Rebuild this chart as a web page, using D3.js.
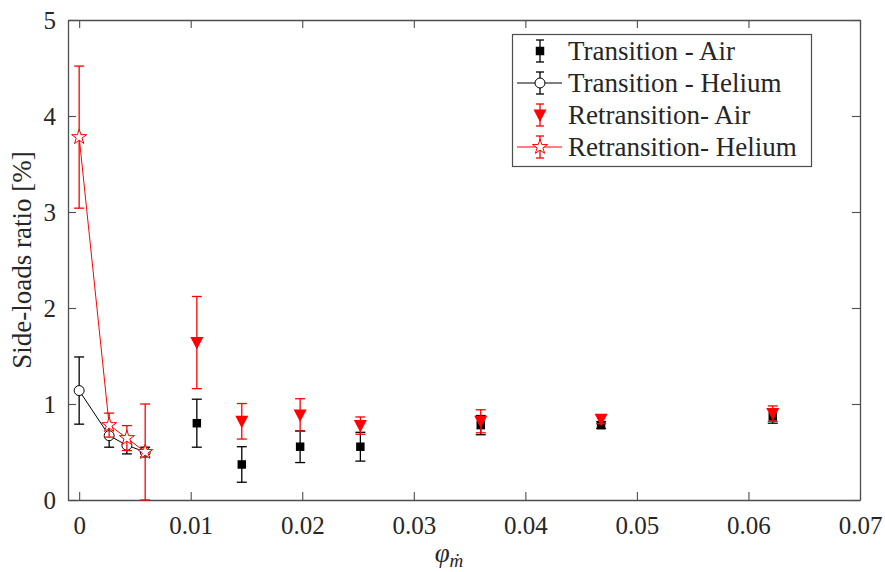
<!DOCTYPE html>
<html>
<head>
<meta charset="utf-8">
<script src="https://cdn.jsdelivr.net/npm/d3@7"></script>
<style>
  html, body { margin: 0; padding: 0; background: #fff; }
  svg { display: block; }
</style>
</head>
<body>
<svg id="chart" width="885" height="572"></svg>
<script>
// Side-load ratio versus mass-flow ratio, transition / retransition, air / helium
const heliumX      = [0, 0.00269, 0.00428, 0.00592];
const transHeY     = [1.14, 0.67, 0.57, 0.50];
const transHeErr   = [0.35, 0.12, 0.09, 0.05];
const retransHeY   = [3.78, 0.78, 0.645, 0.50];
const retransHeErr = [0.74, 0.125, 0.13, 0.50];

const airX         = [0.01055, 0.01458, 0.01981, 0.02521, 0.0360, 0.04679, 0.06218];
const transAirY    = [0.80, 0.37, 0.555, 0.555, 0.78, 0.78, 0.87];
const transAirErr  = [0.25, 0.185, 0.165, 0.15, 0.10, 0.035, 0.07];
const retransAirY  = [1.64, 0.82, 0.885, 0.775, 0.82, 0.84, 0.90];
const retransAirErr= [0.48, 0.185, 0.17, 0.09, 0.12, 0.045, 0.08];

const xTicks = [0, 0.01, 0.02, 0.03, 0.04, 0.05, 0.06, 0.07];
const yTicks = [0, 1, 2, 3, 4, 5];
const legendLabels = ["Transition - Air", "Transition - Helium", "Retransition- Air", "Retransition- Helium"];

const FONT = 'Liberation Serif, DejaVu Serif, Noto Serif, Tinos, Times New Roman, Times, serif';
const svg = d3.select("#chart");
const plotL = 68, plotR = 860, plotT = 20, plotB = 500;
const x = d3.scaleLinear().domain([-0.001, 0.07]).range([plotL, plotR]);
const y = d3.scaleLinear().domain([0, 5]).range([plotB, plotT]);
const axisColor = "#4d4d4d";
const RED = "#ff0000", BLACK = "#000000";

// plot frame and ticks on all four sides
function styleAxis(g) {
  g.attr("font-family", FONT).attr("font-size", 25);
  g.select(".domain").attr("stroke", axisColor).attr("stroke-width", 1.3);
  g.selectAll(".tick line").attr("stroke", axisColor).attr("stroke-width", 1.1);
  g.selectAll(".tick text").attr("fill", "#262626");
}
svg.append("g").attr("transform", `translate(0,${plotB})`)
  .call(d3.axisBottom(x).tickValues(xTicks).tickFormat(d => d === 0 ? "0" : d3.format(".2f")(d))
    .tickSize(-8).tickSizeOuter(0).tickPadding(16))
  .call(styleAxis);
svg.append("g").attr("transform", `translate(0,${plotT})`)
  .call(d3.axisTop(x).tickValues(xTicks).tickFormat("").tickSize(-8).tickSizeOuter(0))
  .call(styleAxis);
svg.append("g").attr("transform", `translate(${plotL},0)`)
  .call(d3.axisLeft(y).tickValues(yTicks).tickFormat(d3.format("d"))
    .tickSize(-8).tickSizeOuter(0).tickPadding(12))
  .call(styleAxis);
svg.append("g").attr("transform", `translate(${plotR},0)`)
  .call(d3.axisRight(y).tickValues(yTicks).tickFormat("").tickSize(-8).tickSizeOuter(0))
  .call(styleAxis);

// axis titles
svg.append("text")
  .attr("transform", `translate(31,${(plotT + plotB) / 2}) rotate(-90)`)
  .attr("text-anchor", "middle")
  .attr("font-family", FONT).attr("font-size", 27).attr("fill", "#262626")
  .text("Side-loads ratio [%]");

const xl = svg.append("text").attr("x", 449).attr("y", 562).attr("text-anchor", "middle")
  .attr("font-family", FONT).attr("font-size", 27).attr("font-style", "italic").attr("fill", "#262626");
xl.append("tspan").text("φ");
xl.append("tspan").attr("dy", 5).attr("font-size", 19).text("m\u0307");

// marker shapes
const sq = d3.symbol().type(d3.symbolSquare).size(72)();
const circ = d3.symbol().type(d3.symbolCircle).size(78)();
const star = d3.symbol().type(d3.symbolStar).size(70)();
const triDown = "M-6.5,-5.5L6.5,-5.5L0,7Z";

function errorBars(g, xs, ys, es, color, cap) {
  const eb = g.append("g").attr("stroke", color).attr("stroke-width", 1.3).attr("fill", "none");
  xs.forEach((xv, i) => {
    const cx = x(xv), y1 = y(ys[i] + es[i]), y0 = y(Math.max(0, ys[i] - es[i]));
    eb.append("line").attr("x1", cx).attr("x2", cx).attr("y1", y1).attr("y2", y0);
    eb.append("line").attr("x1", cx - cap).attr("x2", cx + cap).attr("y1", y1).attr("y2", y1);
    eb.append("line").attr("x1", cx - cap).attr("x2", cx + cap).attr("y1", y0).attr("y2", y0);
  });
}
function markers(g, xs, ys, path, fill, stroke, sw) {
  g.append("g").selectAll("path").data(xs).join("path")
    .attr("d", path)
    .attr("transform", (d, i) => `translate(${x(d)},${y(ys[i])})`)
    .attr("fill", fill).attr("stroke", stroke).attr("stroke-width", sw);
}
const line = d3.line();

// Transition - Air
const g1 = svg.append("g");
errorBars(g1, airX, transAirY, transAirErr, BLACK, 5);
markers(g1, airX, transAirY, sq, BLACK, "none", 0);

// Transition - Helium
const g2 = svg.append("g");
errorBars(g2, heliumX, transHeY, transHeErr, BLACK, 5);
g2.append("path").attr("d", line(heliumX.map((d, i) => [x(d), y(transHeY[i])])))
  .attr("fill", "none").attr("stroke", BLACK).attr("stroke-width", 1);
markers(g2, heliumX, transHeY, circ, "#fff", BLACK, 1);

// Retransition - Air
const g3 = svg.append("g");
errorBars(g3, airX, retransAirY, retransAirErr, RED, 5);
markers(g3, airX, retransAirY, triDown, RED, "none", 0);

// Retransition - Helium
const g4 = svg.append("g");
errorBars(g4, heliumX, retransHeY, retransHeErr, RED, 5);
g4.append("path").attr("d", line(heliumX.map((d, i) => [x(d), y(retransHeY[i])])))
  .attr("fill", "none").attr("stroke", RED).attr("stroke-width", 1);
markers(g4, heliumX, retransHeY, star, "#fff", RED, 1);

// legend
const lg = svg.append("g");
lg.append("rect").attr("x", 512.5).attr("y", 34.5).attr("width", 299).attr("height", 132)
  .attr("fill", "#fff").attr("stroke", axisColor).attr("stroke-width", 1.2);
const legendSpec = [
  { color: BLACK, line: false, path: sq, fill: BLACK, stroke: "none" },
  { color: BLACK, line: true, path: circ, fill: "#fff", stroke: BLACK },
  { color: RED, line: false, path: triDown, fill: RED, stroke: "none" },
  { color: RED, line: true, path: star, fill: "#fff", stroke: RED }
];
legendLabels.forEach((lab, i) => {
  const cy = 51 + i * 32, cx = 540, s = legendSpec[i];
  const e = lg.append("g").attr("stroke", s.color).attr("stroke-width", 1.3);
  if (s.line) e.append("line").attr("x1", 517).attr("x2", 562).attr("y1", cy).attr("y2", cy).attr("stroke-width", 1);
  e.append("line").attr("x1", cx).attr("x2", cx).attr("y1", cy - 11).attr("y2", cy + 11);
  e.append("line").attr("x1", cx - 4).attr("x2", cx + 4).attr("y1", cy - 11).attr("y2", cy - 11);
  e.append("line").attr("x1", cx - 4).attr("x2", cx + 4).attr("y1", cy + 11).attr("y2", cy + 11);
  lg.append("path").attr("d", s.path).attr("transform", `translate(${cx},${cy})`)
    .attr("fill", s.fill).attr("stroke", s.stroke).attr("stroke-width", 1);
  lg.append("text").attr("x", 568).attr("y", cy + 9)
    .attr("font-family", FONT).attr("font-size", 27).attr("fill", "#262626").text(lab);
});
</script>
</body>
</html>
